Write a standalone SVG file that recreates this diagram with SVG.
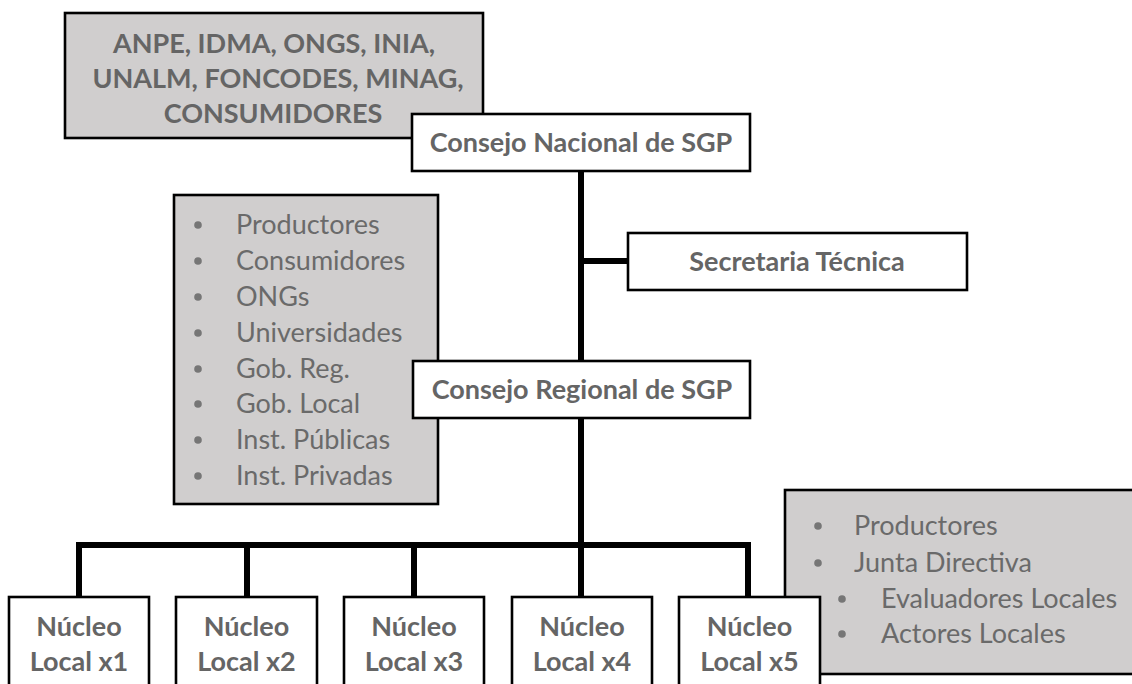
<svg xmlns="http://www.w3.org/2000/svg" width="1132" height="684" viewBox="0 0 1132 684">
<style>
.box{fill:#ffffff;stroke:#000;stroke-width:2.6}
.gbox{fill:#d0cece;stroke:#000;stroke-width:2.6}
.b{font-family:Lato,"Open Sans",sans-serif;font-weight:bold;font-size:27px;fill:#656565;text-anchor:middle}
.r{font-family:Lato,"Open Sans",sans-serif;font-size:27px;fill:#6a6a6a}
.dot{fill:#767676}
.conn{fill:none;stroke:#000;stroke-width:6;stroke-linejoin:miter;stroke-linecap:butt}
</style>
<rect width="1132" height="684" fill="#fff"/>
<g id="connectors">
<path class="conn" d="M581,171 V361 M581,261 H628 M581,418 V597 M79,597 V545 H748 V597 M247,545 V597 M414,545 V597"/>
</g>
<g id="actores-nacionales">
<rect class="gbox" x="65" y="13" width="418" height="125"/>
<text class="b" x="274" y="53">ANPE, IDMA, ONGS, INIA,</text>
<text class="b" x="278" y="88">UNALM, FONCODES, MINAG,</text>
<text class="b" x="273" y="123">CONSUMIDORES</text>
</g>
<g id="consejo-nacional">
<rect class="box" x="412" y="114" width="338" height="57"/>
<text class="b" x="581" y="152">Consejo Nacional de SGP</text>
</g>
<g id="secretaria-tecnica">
<rect class="box" x="628" y="233" width="339" height="57"/>
<text class="b" x="797" y="271">Secretaria Técnica</text>
</g>
<g id="actores-regionales">
<rect class="gbox" x="174" y="195" width="264" height="309"/>
<g class="dot">
<circle cx="198" cy="225" r="3.8"/><circle cx="198" cy="261" r="3.8"/><circle cx="198" cy="297" r="3.8"/><circle cx="198" cy="333" r="3.8"/>
<circle cx="198" cy="369" r="3.8"/><circle cx="198" cy="404" r="3.8"/><circle cx="198" cy="440" r="3.8"/><circle cx="198" cy="476" r="3.8"/>
</g>
<text class="r" x="236" y="234">Productores</text>
<text class="r" x="236" y="270">Consumidores</text>
<text class="r" x="236" y="306">ONGs</text>
<text class="r" x="236" y="342">Universidades</text>
<text class="r" x="236" y="378">Gob. Reg.</text>
<text class="r" x="236" y="413">Gob. Local</text>
<text class="r" x="236" y="449">Inst. Públicas</text>
<text class="r" x="236" y="485">Inst. Privadas</text>
</g>
<g id="consejo-regional">
<rect class="box" x="413" y="361" width="337" height="57"/>
<text class="b" x="582" y="399">Consejo Regional de SGP</text>
</g>
<g id="actores-locales">
<rect class="gbox" x="785" y="490" width="360" height="184"/>
<g class="dot">
<circle cx="818" cy="526" r="3.8"/><circle cx="818" cy="563" r="3.8"/><circle cx="842" cy="599" r="3.8"/><circle cx="842" cy="634" r="3.8"/>
</g>
<text class="r" x="854" y="535">Productores</text>
<text class="r" x="854" y="572">Junta Directiva</text>
<text class="r" x="881" y="608">Evaluadores Locales</text>
<text class="r" x="881" y="643">Actores Locales</text>
</g>
<g id="nucleo-1">
<rect class="box" x="9" y="597" width="140" height="110"/>
<text class="b" x="79" y="636">Núcleo</text>
<text class="b" x="79" y="671">Local x1</text>
</g>
<g id="nucleo-2">
<rect class="box" x="176" y="597" width="141" height="110"/>
<text class="b" x="246.5" y="636">Núcleo</text>
<text class="b" x="246.5" y="671">Local x2</text>
</g>
<g id="nucleo-3">
<rect class="box" x="344" y="597" width="140" height="110"/>
<text class="b" x="414" y="636">Núcleo</text>
<text class="b" x="414" y="671">Local x3</text>
</g>
<g id="nucleo-4">
<rect class="box" x="512" y="597" width="140" height="110"/>
<text class="b" x="582" y="636">Núcleo</text>
<text class="b" x="582" y="671">Local x4</text>
</g>
<g id="nucleo-5">
<rect class="box" x="679" y="597" width="141" height="110"/>
<text class="b" x="749.5" y="636">Núcleo</text>
<text class="b" x="749.5" y="671">Local x5</text>
</g>
</svg>
